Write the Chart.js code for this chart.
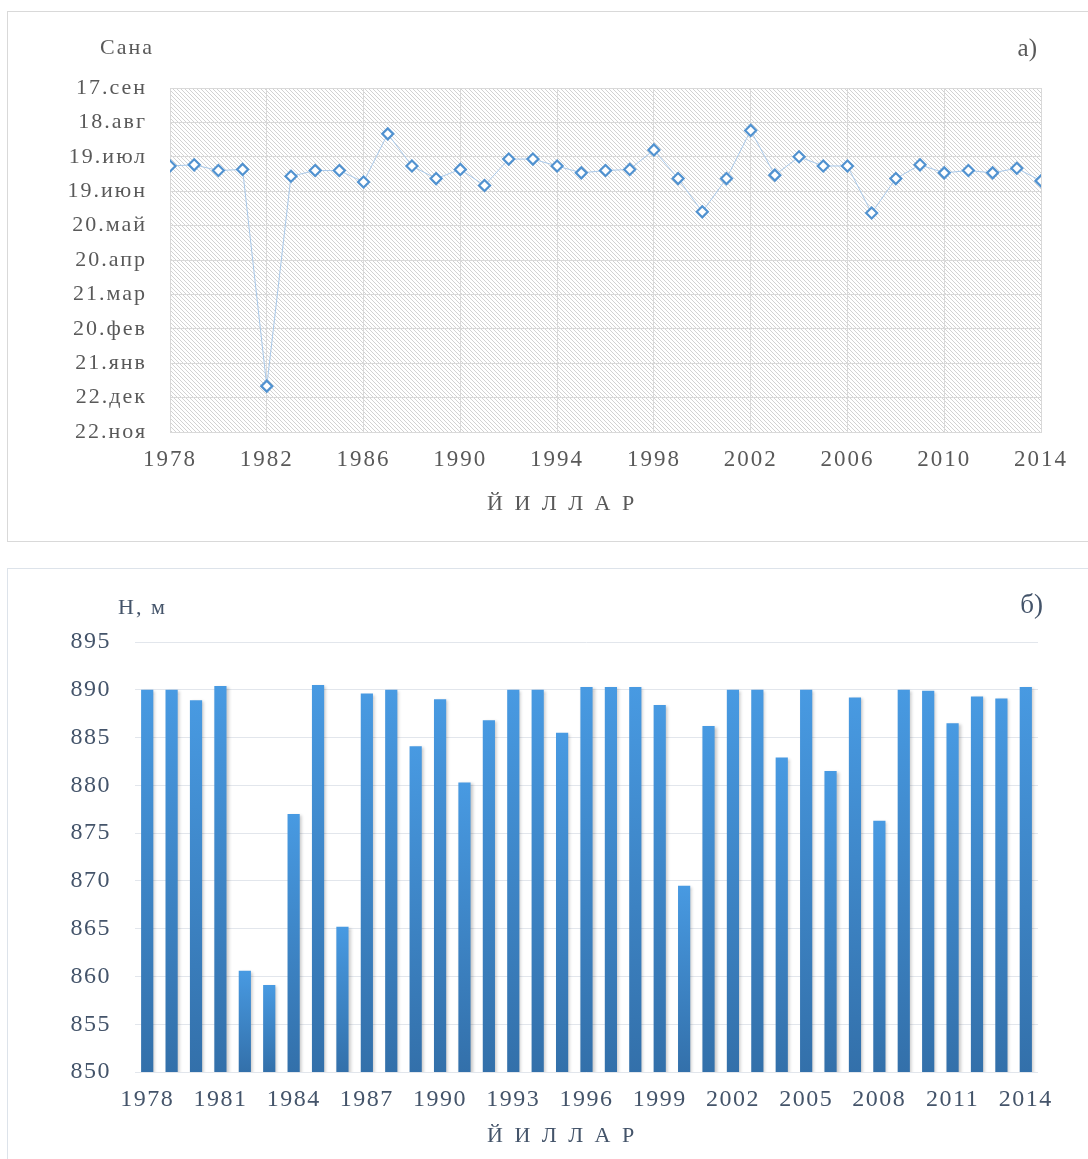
<!DOCTYPE html>
<html lang="ru">
<head>
<meta charset="UTF-8">
<title>Сана ва сув сатҳи</title>
<script src="https://cdn.jsdelivr.net/npm/chart.js"></script>
<style>
  body { margin: 0; background: #fff; width: 1088px; height: 1159px; position: relative; overflow: hidden; }
  .box { position: absolute; }
  canvas { position: absolute; left: 0; }
  .lbl { position: absolute; font-family: 'Liberation Serif', 'Times New Roman', serif; line-height: 1; white-space: nowrap; }
</style>
</head>
<body>
<div class="box" style="left:7px;top:11px;width:1100px;height:529px;border:1px solid #d9d9d9;"></div>
<div class="box" style="left:7px;top:568px;width:1100px;height:620px;border:1px solid #dde3ea;"></div>

<canvas id="chartA" width="1088" height="550" style="top:0"></canvas>
<canvas id="chartB" width="1088" height="599" style="top:560px"></canvas>

<div class="lbl" style="left:100px;top:36px;font-size:22px;color:#595959;letter-spacing:2px">Сана</div>
<div class="lbl" style="right:51px;top:35px;font-size:25px;color:#595959">а)</div>
<div class="lbl" style="left:487px;top:492px;font-size:22px;color:#595959;letter-spacing:3px">Й И Л Л А Р</div>

<div class="lbl" style="left:118px;top:596px;font-size:22px;color:#44546a;letter-spacing:2px">Н, м</div>
<div class="lbl" style="right:45px;top:591px;font-size:27px;color:#44546a">б)</div>
<div class="lbl" style="left:487px;top:1124px;font-size:22px;color:#44546a;letter-spacing:3px">Й И Л Л А Р</div>

<script>
// years of observation
const years = [1978, 1979, 1980, 1981, 1982, 1983, 1984, 1985, 1986, 1987,
               1988, 1989, 1990, 1991, 1992, 1993, 1994, 1995, 1996, 1997,
               1998, 1999, 2000, 2001, 2002, 2003, 2004, 2005, 2006, 2007,
               2008, 2009, 2010, 2011, 2012, 2013, 2014];

// date axis tick labels, one every 30 days starting at 22 Nov
const dateTicks = ['22.ноя', '22.дек', '21.янв', '20.фев', '21.мар', '20.апр',
                   '20.май', '19.июн', '19.июл', '18.авг', '17.сен'];

// date of max level, as days after 22 Nov
const maxDay = [232, 233, 228, 229, 40, 223, 228, 228, 218, 260,
                232, 221, 229, 215, 238, 238, 232, 226, 228, 229,
                246, 221, 192, 221, 263, 224, 240, 232, 232, 191,
                221, 233, 226, 228, 226, 230, 219];

// max water level H, m
const levels = [890.0, 890.0, 888.9, 890.4, 860.6, 859.1, 877.0, 890.5, 865.2, 889.6,
                890.0, 884.1, 889.0, 880.3, 886.8, 890.0, 890.0, 885.5, 890.3, 890.3,
                890.3, 888.4, 869.5, 886.2, 890.0, 890.0, 882.9, 890.0, 881.5, 889.2,
                876.3, 890.0, 889.9, 886.5, 889.3, 889.1, 890.3];

const serif = "'Liberation Serif', 'Times New Roman', serif";

// wider text, like the original export
const spacing = px => ({
    id: 'spacing',
    beforeDraw(chart) { chart.ctx.letterSpacing = px; }
});

// light diagonal hatch for the plot area of chart a)
function hatchPattern(ctx) {
    const c = document.createElement('canvas');
    c.width = 4; c.height = 4;
    const p = c.getContext('2d');
    p.fillStyle = '#ffffff';
    p.fillRect(0, 0, 4, 4);
    p.fillStyle = '#d2d2d2';
    for (let i = 0; i < 4; i++) p.fillRect(i, i, 1, 1);
    return ctx.createPattern(c, 'repeat');
}

const hatchBg = {
    id: 'hatchBg',
    beforeDraw(chart) {
        const {ctx, chartArea: a} = chart;
        ctx.save();
        ctx.fillStyle = hatchPattern(ctx);
        ctx.fillRect(a.left, a.top, a.right - a.left, a.bottom - a.top);
        ctx.restore();
    }
};

new Chart(document.getElementById('chartA'), {
    type: 'line',
    data: {
        datasets: [{
            data: years.map((y, i) => ({x: y, y: maxDay[i]})),
            borderColor: '#a9c9ea',
            borderWidth: 1,
            pointStyle: 'rectRot',
            pointRadius: 5.5,
            pointBorderWidth: 2.2,
            pointBorderColor: '#5192d0',
            pointBackgroundColor: '#ffffff',
            tension: 0
        }]
    },
    options: {
        responsive: false,
        animation: false,
        layout: {padding: {left: 0, right: 47, top: 88, bottom: 58}},
        plugins: {legend: {display: false}, tooltip: {enabled: false}},
        scales: {
            x: {
                type: 'linear',
                min: 1978, max: 2014,
                afterFit: s => { s.height = 60; },
                grid: {color: '#d9d9d9', drawTicks: false},
                border: {color: '#d9d9d9'},
                ticks: {
                    stepSize: 4, padding: 14, autoSkip: false, maxRotation: 0,
                    color: '#595959', font: {family: serif, size: 23},
                    callback: v => String(v)
                }
            },
            y: {
                min: 0, max: 300,
                afterFit: s => { s.width = 170; },
                grid: {color: '#d9d9d9', drawTicks: false},
                border: {color: '#d9d9d9'},
                ticks: {
                    stepSize: 30, padding: 23,
                    color: '#595959', font: {family: serif, size: 22},
                    callback: v => dateTicks[Math.round(v / 30)]
                }
            }
        }
    },
    plugins: [spacing('2px'), hatchBg]
});

// soft shadow behind the bars
const barShadow = {
    id: 'barShadow',
    beforeDatasetsDraw(chart) {
        const ctx = chart.ctx;
        ctx.save();
        ctx.shadowColor = 'rgba(0,0,0,0.22)';
        ctx.shadowBlur = 3;
        ctx.shadowOffsetX = 2;
        ctx.shadowOffsetY = 1;
    },
    afterDatasetsDraw(chart) {
        chart.ctx.restore();
    }
};

new Chart(document.getElementById('chartB'), {
    type: 'bar',
    data: {
        labels: years.map(String),
        datasets: [{
            data: levels,
            backgroundColor: c => {
                const chart = c.chart;
                if (!chart.chartArea || c.type !== 'data') return '#3f86cc';
                const y = chart.scales.y;
                const top = y.getPixelForValue(c.raw);
                const bottom = y.getPixelForValue(y.min);
                const g = chart.ctx.createLinearGradient(0, top, 0, bottom);
                g.addColorStop(0, '#489ae2');
                g.addColorStop(1, '#3370aa');
                return g;
            },
            barPercentage: 0.5,
            categoryPercentage: 1
        }]
    },
    options: {
        responsive: false,
        animation: false,
        layout: {padding: {left: 0, right: 50, top: 82, bottom: 37}},
        plugins: {legend: {display: false}, tooltip: {enabled: false}},
        scales: {
            x: {
                afterFit: s => { s.height = 50; },
                grid: {display: false},
                border: {display: false},
                ticks: {
                    autoSkip: false, maxRotation: 0, padding: 5,
                    color: '#44546a', font: {family: serif, size: 24},
                    callback: (v, i) => (i % 3 === 0 ? years[i] : '')
                }
            },
            y: {
                min: 850, max: 895,
                afterFit: s => { s.width = 135; },
                grid: {color: '#e2e6ec', drawTicks: false},
                border: {display: false},
                ticks: {
                    stepSize: 5, padding: 24,
                    color: '#44546a', font: {family: serif, size: 24}
                }
            }
        }
    },
    plugins: [spacing('1.5px'), barShadow]
});
</script>
</body>
</html>
